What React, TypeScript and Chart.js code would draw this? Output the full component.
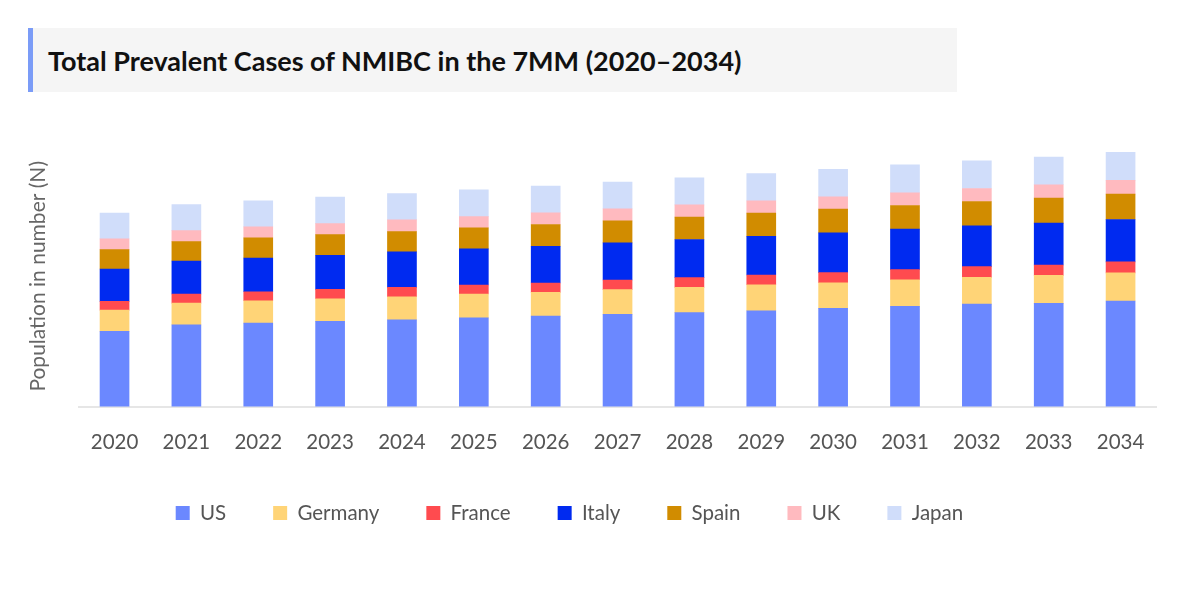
import React, { useEffect, useRef } from "react";
import { Chart, registerables } from "chart.js";

Chart.register(...registerables);

const years = ["2020", "2021", "2022", "2023", "2024", "2025", "2026", "2027", "2028", "2029", "2030", "2031", "2032", "2033", "2034"];

const usCases = [75, 81.6, 83.3, 85, 86.6, 88.6, 90.3, 92, 93.7, 95.6, 98, 100, 102.3, 103, 105.4];
const germanyCases = [21.3, 21.7, 22.3, 22.6, 23, 23.7, 23.7, 24.7, 25.3, 26, 25.6, 26.6, 26.7, 28, 28];
const franceCases = [8.7, 9, 9, 9.4, 9.4, 9, 9.3, 9.6, 9.7, 9.7, 10, 10, 10.6, 10.3, 11];
const italyCases = [32.3, 33, 33.7, 34, 35.3, 36, 36.7, 37, 38, 38.7, 39.7, 40.4, 40.7, 41.7, 42.3];
const spainCases = [19.3, 19.3, 20, 20.6, 20.3, 21, 21.7, 22, 22.3, 23, 23.7, 23.6, 24.3, 25, 25.3];
const ukCases = [10.7, 11, 11, 11, 11.7, 11.3, 11.6, 12, 12.3, 12.3, 12.3, 12.7, 13, 13.3, 13.7];
const japanCases = [25.7, 26, 26, 26.4, 26.3, 26.7, 26.7, 26.7, 27, 27.3, 27.3, 28, 27.7, 27.7, 28];

const seriesNames = ["US", "Germany", "France", "Italy", "Spain", "UK", "Japan"];
const seriesColors = ["#6b88ff", "#ffd477", "#ff4b4f", "#002af0", "#d18c00", "#ffbabf", "#d0ddfa"];

const FONT = "Lato, 'Open Sans', sans-serif";

const legendShift = {
  id: "legendShift",
  afterLayout(chart: any) {
    const lg = chart.legend;
    if (lg) {
      lg.left -= 21.5;
      lg.right -= 21.5;
      lg.top -= 13.5;
      lg.bottom -= 13.5;
    }
  },
};

export default function App() {
  const canvasRef = useRef<HTMLCanvasElement | null>(null);

  useEffect(() => {
    if (!canvasRef.current) return;
    const values = [usCases, germanyCases, franceCases, italyCases, spainCases, ukCases, japanCases];
    const chart = new Chart(canvasRef.current, {
      type: "bar",
      data: {
        labels: years,
        datasets: seriesNames.map((name, i) => ({
          label: name,
          data: values[i],
          backgroundColor: seriesColors[i],
          borderWidth: 0,
          barThickness: 29,
        })),
      },
      options: {
        animation: false,
        responsive: false,
        maintainAspectRatio: false,
        layout: { padding: { top: 146, left: 25.4, right: 44.5, bottom: 52.3 } },
        plugins: {
          tooltip: { enabled: false },
          legend: {
            position: "bottom",
            labels: {
              boxWidth: 14,
              boxHeight: 14,
              padding: 47,
              color: "#555",
              font: { family: FONT, size: 20.5 },
            },
          },
        },
        scales: {
          x: {
            stacked: true,
            grid: { display: false },
            border: { display: true, color: "#e6e6e6", width: 2 },
            ticks: { color: "#555", font: { family: FONT, size: 20.5 }, padding: 15 },
          },
          y: {
            stacked: true,
            min: 0,
            max: 260,
            grid: { display: false },
            border: { display: false },
            ticks: { display: false },
            title: {
              display: true,
              text: "Population in number (N)",
              color: "#666",
              font: { family: FONT, size: 21 },
              padding: { top: 0, bottom: 20 },
            },
          },
        },
      },
      plugins: [legendShift],
    });
    return () => chart.destroy();
  }, []);

  return (
    <div style={{ position: "fixed", left: 0, top: 0, width: 1201, height: 599, background: "#fff" }}>
      <canvas ref={canvasRef} width={1201} height={599} style={{ position: "absolute", left: 0, top: 0, width: 1201, height: 599 }} />
      <div
        style={{
          position: "absolute",
          left: 28,
          top: 28,
          width: 929,
          height: 64,
          background: "#f5f5f5",
          borderLeft: "5px solid #7b9cf7",
          display: "flex",
          alignItems: "center",
          paddingLeft: 15,
          boxSizing: "border-box",
          fontFamily: FONT,
          fontWeight: 700,
          fontSize: 27,
          color: "#111",
          whiteSpace: "nowrap",
        }}
      >
        Total Prevalent Cases of NMIBC in the 7MM (2020–2034)
      </div>
    </div>
  );
}
